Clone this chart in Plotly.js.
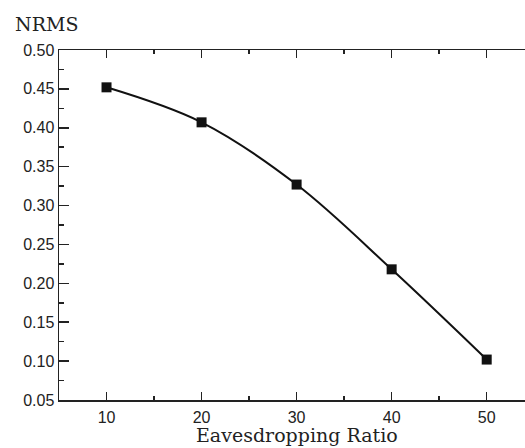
<!DOCTYPE html>
<html>
<head>
<meta charset="utf-8">
<script src="https://cdn.plot.ly/plotly-3.0.1.min.js"></script>
<style>html,body{margin:0;padding:0;background:#fff;}#chart{width:525px;height:448px;}</style>
</head>
<body>
<div id="chart"></div>
<script>
const ratios = [10, 20, 30, 40, 50];
const nrms = [0.452, 0.407, 0.327, 0.218, 0.102];
const xTickVals = [10, 20, 30, 40, 50];
const yTickVals = [0.05, 0.10, 0.15, 0.20, 0.25, 0.30, 0.35, 0.40, 0.45, 0.50];
const yTickText = yTickVals.map(v => v.toFixed(2));

const axisColor = '#222';
const trace = {
  x: ratios, y: nrms, type: 'scatter', mode: 'lines+markers',
  line: {color: '#111', width: 2, shape: 'spline', smoothing: 1},
  marker: {symbol: 'square', size: 10, color: '#111'},
  hoverinfo: 'none'
};
const layout = {
  width: 525, height: 448,
  margin: {l: 59, r: 0, t: 50, b: 48},
  paper_bgcolor: '#fff', plot_bgcolor: '#fff',
  showlegend: false,
  font: {family: 'Liberation Sans, Arial, sans-serif', size: 16, color: '#222'},
  xaxis: {
    range: [5, 54.03], tickvals: xTickVals, ticktext: xTickVals.map(String),
    ticks: 'inside', ticklen: 8, tickwidth: 1.5, tickcolor: axisColor,
    showline: true, linecolor: axisColor, linewidth: 1.5, mirror: 'ticks',
    showgrid: false, zeroline: false,
    minor: {dtick: 5, tick0: 5, ticks: 'inside', ticklen: 4, tickwidth: 1.5, tickcolor: axisColor, showgrid: false},
    ticklabelstandoff: 2
  },
  yaxis: {
    range: [0.05, 0.50], tickvals: yTickVals, ticktext: yTickText,
    ticks: 'inside', ticklen: 10, tickwidth: 1.5, tickcolor: axisColor,
    showline: true, linecolor: axisColor, linewidth: 1.5, mirror: false,
    showgrid: false, zeroline: false,
    minor: {dtick: 0.025, tick0: 0.025, ticks: 'inside', ticklen: 5, tickwidth: 1.5, tickcolor: axisColor, showgrid: false},
    ticklabelstandoff: 0
  },
  annotations: [{
    text: 'NRMS', xref: 'paper', yref: 'paper', x: -59/466, y: 1, xanchor: 'left', yanchor: 'middle',
    xshift: 13, yshift: 26, showarrow: false,
    font: {family: 'DejaVu Serif, serif', size: 19, color: '#222'}
  }, {
    text: 'Eavesdropping Ratio', xref: 'x', yref: 'paper', x: 30, y: 0, xanchor: 'center', yanchor: 'bottom',
    yshift: -48, showarrow: false,
    font: {family: 'DejaVu Serif, serif', size: 19, color: '#222'}
  }]
};
Plotly.newPlot('chart', [trace], layout, {displayModeBar: false, staticPlot: true});
</script>
</body>
</html>
